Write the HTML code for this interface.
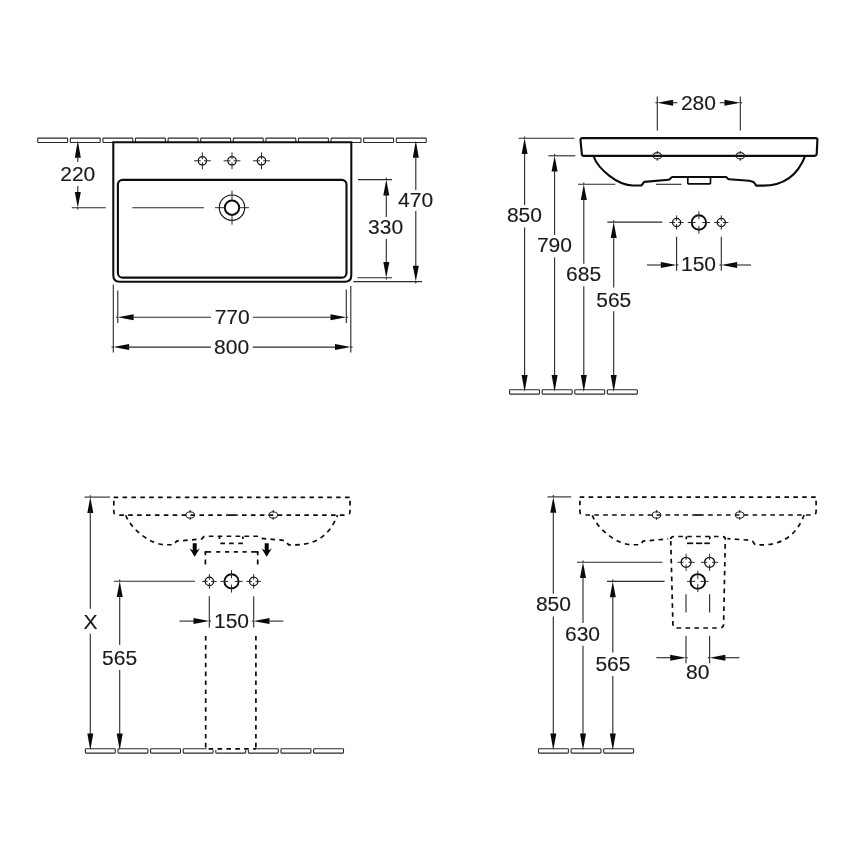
<!DOCTYPE html>
<html><head><meta charset="utf-8"><title>Washbasin technical drawing</title>
<style>
html,body{margin:0;padding:0;background:#fff;}
svg{display:block;filter:grayscale(1)}
text{font-family:"Liberation Sans",Arial,sans-serif;font-size:21px;fill:#1a1a1a;stroke:#1a1a1a;stroke-width:0.15px;}
.t{opacity:0.999}
</style></head>
<body>
<svg width="868" height="868" viewBox="0 0 868 868">
<rect width="868" height="868" fill="#ffffff"/>
<g class="t">
<rect x="37.70" y="138.1" width="29.9" height="4.4" fill="none" stroke="#2a2a2a" stroke-width="1.1" rx="0.6"/>
<rect x="70.30" y="138.1" width="29.9" height="4.4" fill="none" stroke="#2a2a2a" stroke-width="1.1" rx="0.6"/>
<rect x="102.90" y="138.1" width="29.9" height="4.4" fill="none" stroke="#2a2a2a" stroke-width="1.1" rx="0.6"/>
<rect x="135.50" y="138.1" width="29.9" height="4.4" fill="none" stroke="#2a2a2a" stroke-width="1.1" rx="0.6"/>
<rect x="168.10" y="138.1" width="29.9" height="4.4" fill="none" stroke="#2a2a2a" stroke-width="1.1" rx="0.6"/>
<rect x="200.70" y="138.1" width="29.9" height="4.4" fill="none" stroke="#2a2a2a" stroke-width="1.1" rx="0.6"/>
<rect x="233.30" y="138.1" width="29.9" height="4.4" fill="none" stroke="#2a2a2a" stroke-width="1.1" rx="0.6"/>
<rect x="265.90" y="138.1" width="29.9" height="4.4" fill="none" stroke="#2a2a2a" stroke-width="1.1" rx="0.6"/>
<rect x="298.50" y="138.1" width="29.9" height="4.4" fill="none" stroke="#2a2a2a" stroke-width="1.1" rx="0.6"/>
<rect x="331.10" y="138.1" width="29.9" height="4.4" fill="none" stroke="#2a2a2a" stroke-width="1.1" rx="0.6"/>
<rect x="363.70" y="138.1" width="29.9" height="4.4" fill="none" stroke="#2a2a2a" stroke-width="1.1" rx="0.6"/>
<rect x="396.30" y="138.1" width="29.9" height="4.4" fill="none" stroke="#2a2a2a" stroke-width="1.1" rx="0.6"/>
<path d="M113.3 142.3 H351.3 V275.3 Q351.3 281.8 344.8 281.8 H119.8 Q113.3 281.8 113.3 275.3 Z" fill="none" stroke="#0c0c0c" stroke-width="2.05"/>
<rect x="117.9" y="179.9" width="228.6" height="97.7" rx="4.7" ry="4.7" fill="none" stroke="#0c0c0c" stroke-width="2.1"/>
<circle cx="202.4" cy="160.8" r="4.2" fill="none" stroke="#0c0c0c" stroke-width="1.25"/>
<line x1="194.0" y1="160.8" x2="200.8" y2="160.8" stroke="#2a2a2a" stroke-width="1" />
<line x1="204.0" y1="160.8" x2="210.8" y2="160.8" stroke="#2a2a2a" stroke-width="1" />
<line x1="202.4" y1="152.4" x2="202.4" y2="159.20000000000002" stroke="#2a2a2a" stroke-width="1" />
<line x1="202.4" y1="162.4" x2="202.4" y2="169.20000000000002" stroke="#2a2a2a" stroke-width="1" />
<circle cx="232.0" cy="160.8" r="4.2" fill="none" stroke="#0c0c0c" stroke-width="1.25"/>
<line x1="223.6" y1="160.8" x2="230.4" y2="160.8" stroke="#2a2a2a" stroke-width="1" />
<line x1="233.6" y1="160.8" x2="240.4" y2="160.8" stroke="#2a2a2a" stroke-width="1" />
<line x1="232.0" y1="152.4" x2="232.0" y2="159.20000000000002" stroke="#2a2a2a" stroke-width="1" />
<line x1="232.0" y1="162.4" x2="232.0" y2="169.20000000000002" stroke="#2a2a2a" stroke-width="1" />
<circle cx="261.5" cy="160.8" r="4.2" fill="none" stroke="#0c0c0c" stroke-width="1.25"/>
<line x1="253.1" y1="160.8" x2="259.9" y2="160.8" stroke="#2a2a2a" stroke-width="1" />
<line x1="263.1" y1="160.8" x2="269.9" y2="160.8" stroke="#2a2a2a" stroke-width="1" />
<line x1="261.5" y1="152.4" x2="261.5" y2="159.20000000000002" stroke="#2a2a2a" stroke-width="1" />
<line x1="261.5" y1="162.4" x2="261.5" y2="169.20000000000002" stroke="#2a2a2a" stroke-width="1" />
<circle cx="232.0" cy="207.7" r="12.7" fill="none" stroke="#0c0c0c" stroke-width="1.1"/>
<circle cx="232.0" cy="207.7" r="7.2" fill="none" stroke="#0c0c0c" stroke-width="2"/>
<line x1="215.0" y1="207.7" x2="224.5" y2="207.7" stroke="#2a2a2a" stroke-width="1" />
<line x1="239.5" y1="207.7" x2="249.0" y2="207.7" stroke="#2a2a2a" stroke-width="1" />
<line x1="232.0" y1="190.7" x2="232.0" y2="200.2" stroke="#2a2a2a" stroke-width="1" />
<line x1="232.0" y1="215.2" x2="232.0" y2="224.7" stroke="#2a2a2a" stroke-width="1" />
<polygon points="77.80,140.60 74.80,157.80 80.80,157.80" fill="#0a0a0a"/>
<line x1="77.8" y1="156" x2="77.8" y2="161.9" stroke="#2a2a2a" stroke-width="1.12" />
<text x="77.8" y="181.3" text-anchor="middle">220</text>
<line x1="77.8" y1="186" x2="77.8" y2="194" stroke="#2a2a2a" stroke-width="1.12" />
<polygon points="77.80,207.80 74.80,192.00 80.80,192.00" fill="#0a0a0a"/>
<line x1="77.8" y1="207.8" x2="77.8" y2="209.60000000000002" stroke="#2a2a2a" stroke-width="1.12" />
<line x1="71.8" y1="207.8" x2="105.8" y2="207.8" stroke="#2a2a2a" stroke-width="1.12" />
<line x1="132.3" y1="207.8" x2="204" y2="207.8" stroke="#2a2a2a" stroke-width="1.12" />
<line x1="358" y1="179.6" x2="392" y2="179.6" stroke="#2a2a2a" stroke-width="1.12" />
<line x1="357.5" y1="277.7" x2="392" y2="277.7" stroke="#2a2a2a" stroke-width="1.12" />
<polygon points="386.30,179.60 383.30,195.40 389.30,195.40" fill="#0a0a0a"/>
<line x1="386.3" y1="179.6" x2="386.3" y2="177.79999999999998" stroke="#2a2a2a" stroke-width="1.12" />
<line x1="386.3" y1="193" x2="386.3" y2="217" stroke="#2a2a2a" stroke-width="1.12" />
<text x="385.6" y="234.1" text-anchor="middle">330</text>
<line x1="386.3" y1="238.8" x2="386.3" y2="264" stroke="#2a2a2a" stroke-width="1.12" />
<polygon points="386.30,277.70 383.30,261.90 389.30,261.90" fill="#0a0a0a"/>
<line x1="386.3" y1="277.7" x2="386.3" y2="279.5" stroke="#2a2a2a" stroke-width="1.12" />
<line x1="353.3" y1="281.6" x2="422" y2="281.6" stroke="#2a2a2a" stroke-width="1.12" />
<polygon points="415.80,140.60 412.80,157.80 418.80,157.80" fill="#0a0a0a"/>
<line x1="415.8" y1="156" x2="415.8" y2="190" stroke="#2a2a2a" stroke-width="1.12" />
<text x="415.6" y="207.1" text-anchor="middle">470</text>
<line x1="415.8" y1="211" x2="415.8" y2="267.5" stroke="#2a2a2a" stroke-width="1.12" />
<polygon points="415.80,281.60 412.80,265.80 418.80,265.80" fill="#0a0a0a"/>
<line x1="415.8" y1="281.6" x2="415.8" y2="283.40000000000003" stroke="#2a2a2a" stroke-width="1.12" />
<line x1="113.3" y1="284.5" x2="113.3" y2="352.5" stroke="#2a2a2a" stroke-width="1.12" />
<line x1="350.8" y1="286" x2="350.8" y2="352.5" stroke="#2a2a2a" stroke-width="1.12" />
<line x1="117.8" y1="290.5" x2="117.8" y2="323" stroke="#2a2a2a" stroke-width="1.12" />
<line x1="346.3" y1="289.5" x2="346.3" y2="323" stroke="#2a2a2a" stroke-width="1.12" />
<polygon points="117.80,317.30 133.60,314.30 133.60,320.30" fill="#0a0a0a"/>
<line x1="117.8" y1="317.3" x2="116.0" y2="317.3" stroke="#2a2a2a" stroke-width="1.12" />
<line x1="131.5" y1="317.3" x2="211" y2="317.3" stroke="#2a2a2a" stroke-width="1.12" />
<text x="232.2" y="324.3" text-anchor="middle">770</text>
<line x1="252.8" y1="317.3" x2="332" y2="317.3" stroke="#2a2a2a" stroke-width="1.12" />
<polygon points="346.30,317.30 330.50,314.30 330.50,320.30" fill="#0a0a0a"/>
<line x1="346.3" y1="317.3" x2="348.1" y2="317.3" stroke="#2a2a2a" stroke-width="1.12" />
<polygon points="113.30,347.10 129.10,344.10 129.10,350.10" fill="#0a0a0a"/>
<line x1="113.3" y1="347.1" x2="111.5" y2="347.1" stroke="#2a2a2a" stroke-width="1.12" />
<line x1="127" y1="347.1" x2="211" y2="347.1" stroke="#2a2a2a" stroke-width="1.12" />
<text x="231.6" y="354.1" text-anchor="middle">800</text>
<line x1="252.8" y1="347.1" x2="337" y2="347.1" stroke="#2a2a2a" stroke-width="1.12" />
<polygon points="350.80,347.10 335.00,344.10 335.00,350.10" fill="#0a0a0a"/>
<line x1="350.8" y1="347.1" x2="352.6" y2="347.1" stroke="#2a2a2a" stroke-width="1.12" />
<line x1="657.3" y1="96.4" x2="657.3" y2="130.5" stroke="#2a2a2a" stroke-width="1.12" />
<line x1="740.3" y1="96.4" x2="740.3" y2="130.5" stroke="#2a2a2a" stroke-width="1.12" />
<polygon points="657.30,102.70 673.10,99.70 673.10,105.70" fill="#0a0a0a"/>
<line x1="657.3" y1="102.7" x2="655.5" y2="102.7" stroke="#2a2a2a" stroke-width="1.12" />
<line x1="671" y1="102.7" x2="677.3" y2="102.7" stroke="#2a2a2a" stroke-width="1.12" />
<text x="698.4" y="110" text-anchor="middle">280</text>
<line x1="719.8" y1="102.7" x2="727" y2="102.7" stroke="#2a2a2a" stroke-width="1.12" />
<polygon points="740.30,102.70 724.50,99.70 724.50,105.70" fill="#0a0a0a"/>
<line x1="740.3" y1="102.7" x2="742.0999999999999" y2="102.7" stroke="#2a2a2a" stroke-width="1.12" />
<path d="M582.3 138.1 H815.6 Q817.5 138.1 817.4 140 L816.7 153.8 Q816.6 155.8 814.6 155.8 H583.8 Q582 155.8 581.8 153.8 L580.5 140.1 Q580.4 138.1 582.3 138.1 Z" fill="none" stroke="#0c0c0c" stroke-width="2.15" stroke-linejoin="round"/>
<path d="M593.40 156.00 C598.40 169.60 618.00 185.50 633.00 185.50 L641.40 185.50 L644.20 181.90 L668.70 179.80 C670.70 179.60 670.40 177.00 672.70 177.00 L725.60 177.00 C727.40 177.00 727.00 179.00 729.00 179.20 L749.20 180.80 L753.70 182.00 L756.20 185.60 L763.00 185.60 C789.50 185.60 800.00 169.30 805.20 155.80" fill="none" stroke="#0c0c0c" stroke-width="2.1" stroke-linejoin="round"/>
<path d="M687.8 177 V183.1 Q687.8 183.9 688.6 183.9 H709.7 Q710.5 183.9 710.5 183.1 V177" fill="none" stroke="#0c0c0c" stroke-width="1.7"/>
<line x1="656" y1="184.3" x2="681.6" y2="184.3" stroke="#2a2a2a" stroke-width="1.12" />
<ellipse cx="657.3" cy="155.8" rx="4.3" ry="3.2" fill="none" stroke="#222" stroke-width="1.05"/>
<line x1="657.3" y1="150.9" x2="657.3" y2="153.6" stroke="#2a2a2a" stroke-width="1.12" />
<line x1="657.3" y1="158.0" x2="657.3" y2="160.7" stroke="#2a2a2a" stroke-width="1.12" />
<ellipse cx="740.3" cy="155.8" rx="4.3" ry="3.2" fill="none" stroke="#222" stroke-width="1.05"/>
<line x1="740.3" y1="150.9" x2="740.3" y2="153.6" stroke="#2a2a2a" stroke-width="1.12" />
<line x1="740.3" y1="158.0" x2="740.3" y2="160.7" stroke="#2a2a2a" stroke-width="1.12" />
<circle cx="676.6" cy="222.5" r="4.1" fill="none" stroke="#0c0c0c" stroke-width="1.25"/>
<line x1="669.5" y1="222.5" x2="675.0" y2="222.5" stroke="#2a2a2a" stroke-width="1" />
<line x1="678.2" y1="222.5" x2="683.7" y2="222.5" stroke="#2a2a2a" stroke-width="1" />
<line x1="676.6" y1="215.4" x2="676.6" y2="220.9" stroke="#2a2a2a" stroke-width="1" />
<line x1="676.6" y1="224.1" x2="676.6" y2="229.6" stroke="#2a2a2a" stroke-width="1" />
<circle cx="721.3" cy="222.5" r="4.1" fill="none" stroke="#0c0c0c" stroke-width="1.25"/>
<line x1="714.1999999999999" y1="222.5" x2="719.6999999999999" y2="222.5" stroke="#2a2a2a" stroke-width="1" />
<line x1="722.9" y1="222.5" x2="728.4" y2="222.5" stroke="#2a2a2a" stroke-width="1" />
<line x1="721.3" y1="215.4" x2="721.3" y2="220.9" stroke="#2a2a2a" stroke-width="1" />
<line x1="721.3" y1="224.1" x2="721.3" y2="229.6" stroke="#2a2a2a" stroke-width="1" />
<circle cx="698.9" cy="222.5" r="7.2" fill="none" stroke="#0c0c0c" stroke-width="1.9"/>
<line x1="687.6999999999999" y1="222.5" x2="695.5" y2="222.5" stroke="#2a2a2a" stroke-width="1" />
<line x1="702.3" y1="222.5" x2="710.1" y2="222.5" stroke="#2a2a2a" stroke-width="1" />
<line x1="698.9" y1="211.3" x2="698.9" y2="219.1" stroke="#2a2a2a" stroke-width="1" />
<line x1="698.9" y1="225.9" x2="698.9" y2="233.7" stroke="#2a2a2a" stroke-width="1" />
<line x1="676.6" y1="236.8" x2="676.6" y2="270.8" stroke="#2a2a2a" stroke-width="1.12" />
<line x1="721.3" y1="236.8" x2="721.3" y2="270.8" stroke="#2a2a2a" stroke-width="1.12" />
<line x1="647" y1="265.0" x2="663" y2="265.0" stroke="#2a2a2a" stroke-width="1.12" />
<polygon points="676.60,265.00 660.80,262.00 660.80,268.00" fill="#0a0a0a"/>
<line x1="676.6" y1="265.0" x2="678.4" y2="265.0" stroke="#2a2a2a" stroke-width="1.12" />
<text x="698.5" y="271.3" text-anchor="middle">150</text>
<polygon points="721.30,265.00 737.10,262.00 737.10,268.00" fill="#0a0a0a"/>
<line x1="721.3" y1="265.0" x2="719.5" y2="265.0" stroke="#2a2a2a" stroke-width="1.12" />
<line x1="735" y1="265.0" x2="751" y2="265.0" stroke="#2a2a2a" stroke-width="1.12" />
<line x1="518.5" y1="138.2" x2="574.4" y2="138.2" stroke="#2a2a2a" stroke-width="1.12" />
<polygon points="524.60,138.20 521.60,154.00 527.60,154.00" fill="#0a0a0a"/>
<line x1="524.6" y1="138.2" x2="524.6" y2="136.39999999999998" stroke="#2a2a2a" stroke-width="1.12" />
<line x1="524.6" y1="153.0" x2="524.6" y2="205" stroke="#2a2a2a" stroke-width="1.12" />
<text x="524.4" y="222.2" text-anchor="middle">850</text>
<line x1="524.6" y1="227.5" x2="524.6" y2="375.2" stroke="#2a2a2a" stroke-width="1.12" />
<polygon points="524.60,392.00 521.60,375.10 527.60,375.10" fill="#0a0a0a"/>
<line x1="548.4" y1="155.8" x2="575.3" y2="155.8" stroke="#2a2a2a" stroke-width="1.12" />
<polygon points="554.60,155.80 551.60,171.60 557.60,171.60" fill="#0a0a0a"/>
<line x1="554.6" y1="155.8" x2="554.6" y2="154.0" stroke="#2a2a2a" stroke-width="1.12" />
<line x1="554.6" y1="170.60000000000002" x2="554.6" y2="235" stroke="#2a2a2a" stroke-width="1.12" />
<text x="554.4" y="252.2" text-anchor="middle">790</text>
<line x1="554.6" y1="257.5" x2="554.6" y2="375.2" stroke="#2a2a2a" stroke-width="1.12" />
<polygon points="554.60,392.00 551.60,375.10 557.60,375.10" fill="#0a0a0a"/>
<line x1="578.0" y1="184.3" x2="615.3" y2="184.3" stroke="#2a2a2a" stroke-width="1.12" />
<polygon points="583.80,184.30 580.80,200.10 586.80,200.10" fill="#0a0a0a"/>
<line x1="583.8" y1="184.3" x2="583.8" y2="182.5" stroke="#2a2a2a" stroke-width="1.12" />
<line x1="583.8" y1="199.10000000000002" x2="583.8" y2="263.8" stroke="#2a2a2a" stroke-width="1.12" />
<text x="583.6" y="281.0" text-anchor="middle">685</text>
<line x1="583.8" y1="286.3" x2="583.8" y2="375.2" stroke="#2a2a2a" stroke-width="1.12" />
<polygon points="583.80,392.00 580.80,375.10 586.80,375.10" fill="#0a0a0a"/>
<line x1="607.3" y1="222.1" x2="662.3" y2="222.1" stroke="#2a2a2a" stroke-width="1.12" />
<polygon points="613.70,222.10 610.70,237.90 616.70,237.90" fill="#0a0a0a"/>
<line x1="613.7" y1="222.1" x2="613.7" y2="220.29999999999998" stroke="#2a2a2a" stroke-width="1.12" />
<line x1="613.7" y1="236.9" x2="613.7" y2="287.5" stroke="#2a2a2a" stroke-width="1.12" />
<text x="613.8" y="307.1" text-anchor="middle">565</text>
<line x1="613.7" y1="311.3" x2="613.7" y2="375.2" stroke="#2a2a2a" stroke-width="1.12" />
<polygon points="613.70,392.00 610.70,375.10 616.70,375.10" fill="#0a0a0a"/>
<rect x="509.60" y="389.75" width="29.9" height="4.4" fill="none" stroke="#2a2a2a" stroke-width="1.1" rx="0.6"/>
<rect x="542.20" y="389.75" width="29.9" height="4.4" fill="none" stroke="#2a2a2a" stroke-width="1.1" rx="0.6"/>
<rect x="574.80" y="389.75" width="29.9" height="4.4" fill="none" stroke="#2a2a2a" stroke-width="1.1" rx="0.6"/>
<rect x="607.40" y="389.75" width="29.9" height="4.4" fill="none" stroke="#2a2a2a" stroke-width="1.1" rx="0.6"/>
<path d="M113.6 497.3 H350.8" fill="none" stroke="#0c0c0c" stroke-width="1.7" stroke-dasharray="4.6 4.3"/>
<path d="M113.8 497.3 V511.6 Q113.8 515.1 117.3 515.1" fill="none" stroke="#0c0c0c" stroke-width="1.7" stroke-dasharray="4.6 4.3" stroke-dashoffset="5.4"/>
<path d="M350.0 497.3 V511.6 Q350.0 515.1 346.5 515.1" fill="none" stroke="#0c0c0c" stroke-width="1.7" stroke-dasharray="4.6 4.3" stroke-dashoffset="5.4"/>
<path d="M119.3 515.1 H227.3" fill="none" stroke="#0c0c0c" stroke-width="1.7" stroke-dasharray="4.6 4.3"/>
<path d="M344.5 515.1 H236.5" fill="none" stroke="#0c0c0c" stroke-width="1.7" stroke-dasharray="4.6 4.3"/>
<path d="M227.20000000000002 515.1 H236.6" fill="none" stroke="#0c0c0c" stroke-width="1.7" />
<path d="M125.75 515.25 C130.75 528.85 150.35 544.75 165.35 544.75 L173.75 544.75 L176.55 541.15 L201.05 539.05 C203.05 538.85 202.75 536.25 205.05 536.25 L257.95 536.25 C259.75 536.25 259.35 538.25 261.35 538.45 L281.55 540.05 L286.05 541.25 L288.55 544.85 L295.35 544.85 C321.85 544.85 332.35 528.55 337.55 515.05" fill="none" stroke="#0c0c0c" stroke-width="1.7" stroke-dasharray="4.6 4.3"/>
<path d="M219.5 536.4 V539 M242.9 536.4 V539" fill="none" stroke="#0c0c0c" stroke-width="1.7" />
<path d="M220.3 543.4 H225" fill="none" stroke="#0c0c0c" stroke-width="1.7" />
<path d="M229.1 543.4 H233.7" fill="none" stroke="#0c0c0c" stroke-width="1.7" />
<path d="M238.3 543.4 H242.9" fill="none" stroke="#0c0c0c" stroke-width="1.7" />
<ellipse cx="190.2" cy="515" rx="4.3" ry="3.2" fill="none" stroke="#222" stroke-width="1.05"/>
<line x1="190.2" y1="510.0" x2="190.2" y2="512.7" stroke="#2a2a2a" stroke-width="1.12" />
<line x1="190.2" y1="517.1" x2="190.2" y2="519.8" stroke="#2a2a2a" stroke-width="1.12" />
<ellipse cx="273.2" cy="515" rx="4.3" ry="3.2" fill="none" stroke="#222" stroke-width="1.05"/>
<line x1="273.2" y1="510.0" x2="273.2" y2="512.7" stroke="#2a2a2a" stroke-width="1.12" />
<line x1="273.2" y1="517.1" x2="273.2" y2="519.8" stroke="#2a2a2a" stroke-width="1.12" />
<path d="M192.7 543.3 H196.7 V550.1999999999999 L199.79999999999998 548.4 L194.7 556.8 L189.6 548.4 L192.7 550.1999999999999 Z" fill="#000"/>
<path d="M264.7 543.3 H268.7 V550.1999999999999 L271.8 548.4 L266.7 556.8 L261.59999999999997 548.4 L264.7 550.1999999999999 Z" fill="#000"/>
<path d="M204.55 551.9 H211.1" fill="none" stroke="#0c0c0c" stroke-width="1.7" />
<path d="M216.2 551.9 H220.3" fill="none" stroke="#0c0c0c" stroke-width="1.7" />
<path d="M225 551.9 H229.2" fill="none" stroke="#0c0c0c" stroke-width="1.7" />
<path d="M233.7 551.9 H237.9" fill="none" stroke="#0c0c0c" stroke-width="1.7" />
<path d="M242.5 551.9 H246.7" fill="none" stroke="#0c0c0c" stroke-width="1.7" />
<path d="M251.2 551.9 H258.55" fill="none" stroke="#0c0c0c" stroke-width="1.7" />
<path d="M205.4 551.9 V555.3 M205.4 559.5 V564.6" fill="none" stroke="#0c0c0c" stroke-width="1.7" />
<path d="M257.7 551.9 V555.3 M257.7 559.5 V564.6" fill="none" stroke="#0c0c0c" stroke-width="1.7" />
<circle cx="209.4" cy="581.4" r="4.2" fill="none" stroke="#0c0c0c" stroke-width="1.25"/>
<line x1="202.1" y1="581.4" x2="207.8" y2="581.4" stroke="#2a2a2a" stroke-width="1" />
<line x1="211.0" y1="581.4" x2="216.70000000000002" y2="581.4" stroke="#2a2a2a" stroke-width="1" />
<line x1="209.4" y1="574.1" x2="209.4" y2="579.8" stroke="#2a2a2a" stroke-width="1" />
<line x1="209.4" y1="583.0" x2="209.4" y2="588.6999999999999" stroke="#2a2a2a" stroke-width="1" />
<circle cx="253.7" cy="581.4" r="4.2" fill="none" stroke="#0c0c0c" stroke-width="1.25"/>
<line x1="246.39999999999998" y1="581.4" x2="252.1" y2="581.4" stroke="#2a2a2a" stroke-width="1" />
<line x1="255.29999999999998" y1="581.4" x2="261.0" y2="581.4" stroke="#2a2a2a" stroke-width="1" />
<line x1="253.7" y1="574.1" x2="253.7" y2="579.8" stroke="#2a2a2a" stroke-width="1" />
<line x1="253.7" y1="583.0" x2="253.7" y2="588.6999999999999" stroke="#2a2a2a" stroke-width="1" />
<circle cx="231.5" cy="581.4" r="7.1" fill="none" stroke="#0c0c0c" stroke-width="1.9"/>
<line x1="220.3" y1="581.4" x2="228.3" y2="581.4" stroke="#2a2a2a" stroke-width="1" />
<line x1="234.7" y1="581.4" x2="242.7" y2="581.4" stroke="#2a2a2a" stroke-width="1" />
<line x1="231.5" y1="570.1999999999999" x2="231.5" y2="578.1999999999999" stroke="#2a2a2a" stroke-width="1" />
<line x1="231.5" y1="584.6" x2="231.5" y2="592.6" stroke="#2a2a2a" stroke-width="1" />
<line x1="209.3" y1="596.3" x2="209.3" y2="627.5" stroke="#2a2a2a" stroke-width="1.12" />
<line x1="253.7" y1="596.3" x2="253.7" y2="627.5" stroke="#2a2a2a" stroke-width="1.12" />
<line x1="179.5" y1="621.1" x2="196" y2="621.1" stroke="#2a2a2a" stroke-width="1.12" />
<polygon points="209.30,621.10 193.50,618.10 193.50,624.10" fill="#0a0a0a"/>
<line x1="209.3" y1="621.1" x2="211.10000000000002" y2="621.1" stroke="#2a2a2a" stroke-width="1.12" />
<text x="231.5" y="628.3" text-anchor="middle">150</text>
<polygon points="253.70,621.10 269.50,618.10 269.50,624.10" fill="#0a0a0a"/>
<line x1="253.7" y1="621.1" x2="251.89999999999998" y2="621.1" stroke="#2a2a2a" stroke-width="1.12" />
<line x1="267.5" y1="621.1" x2="283.3" y2="621.1" stroke="#2a2a2a" stroke-width="1.12" />
<line x1="84.5" y1="497.1" x2="110" y2="497.1" stroke="#2a2a2a" stroke-width="1.12" />
<polygon points="90.30,497.10 87.30,512.90 93.30,512.90" fill="#0a0a0a"/>
<line x1="90.3" y1="497.1" x2="90.3" y2="495.3" stroke="#2a2a2a" stroke-width="1.12" />
<line x1="90.3" y1="511" x2="90.3" y2="608.8" stroke="#2a2a2a" stroke-width="1.12" />
<text x="90.6" y="628.8" text-anchor="middle">X</text>
<line x1="90.3" y1="633.8" x2="90.3" y2="734.2" stroke="#2a2a2a" stroke-width="1.12" />
<polygon points="90.30,750.20 87.30,733.60 93.30,733.60" fill="#0a0a0a"/>
<line x1="113.8" y1="581.3" x2="195" y2="581.3" stroke="#2a2a2a" stroke-width="1.12" />
<polygon points="119.70,581.30 116.70,597.10 122.70,597.10" fill="#0a0a0a"/>
<line x1="119.7" y1="581.3" x2="119.7" y2="579.5" stroke="#2a2a2a" stroke-width="1.12" />
<line x1="119.7" y1="595" x2="119.7" y2="645" stroke="#2a2a2a" stroke-width="1.12" />
<text x="119.6" y="665" text-anchor="middle">565</text>
<line x1="119.7" y1="670" x2="119.7" y2="734.2" stroke="#2a2a2a" stroke-width="1.12" />
<polygon points="119.70,750.20 116.70,733.60 122.70,733.60" fill="#0a0a0a"/>
<rect x="85.40" y="748.7" width="29.9" height="4.4" fill="none" stroke="#2a2a2a" stroke-width="1.1" rx="0.6"/>
<rect x="118.00" y="748.7" width="29.9" height="4.4" fill="none" stroke="#2a2a2a" stroke-width="1.1" rx="0.6"/>
<rect x="150.60" y="748.7" width="29.9" height="4.4" fill="none" stroke="#2a2a2a" stroke-width="1.1" rx="0.6"/>
<rect x="183.20" y="748.7" width="29.9" height="4.4" fill="none" stroke="#2a2a2a" stroke-width="1.1" rx="0.6"/>
<rect x="215.80" y="748.7" width="29.9" height="4.4" fill="none" stroke="#2a2a2a" stroke-width="1.1" rx="0.6"/>
<rect x="248.40" y="748.7" width="29.9" height="4.4" fill="none" stroke="#2a2a2a" stroke-width="1.1" rx="0.6"/>
<rect x="281.00" y="748.7" width="29.9" height="4.4" fill="none" stroke="#2a2a2a" stroke-width="1.1" rx="0.6"/>
<rect x="313.60" y="748.7" width="29.9" height="4.4" fill="none" stroke="#2a2a2a" stroke-width="1.1" rx="0.6"/>
<rect x="206.6" y="747.9" width="48.4" height="2.2" fill="#fff"/>
<path d="M205.7 636 V748.8 H255.9" fill="none" stroke="#0c0c0c" stroke-width="1.7" stroke-dasharray="4.6 4.3"/>
<path d="M255.9 636 V748.8" fill="none" stroke="#0c0c0c" stroke-width="1.7" stroke-dasharray="4.6 4.3"/>
<path d="M579.6999999999999 497.2 H816.8999999999999" fill="none" stroke="#0c0c0c" stroke-width="1.7" stroke-dasharray="4.6 4.3"/>
<path d="M579.9 497.2 V511.5 Q579.9 515.0 583.4 515.0" fill="none" stroke="#0c0c0c" stroke-width="1.7" stroke-dasharray="4.6 4.3" stroke-dashoffset="5.4"/>
<path d="M816.0999999999999 497.2 V511.5 Q816.0999999999999 515.0 812.5999999999999 515.0" fill="none" stroke="#0c0c0c" stroke-width="1.7" stroke-dasharray="4.6 4.3" stroke-dashoffset="5.4"/>
<path d="M585.4 515.0 H693.4" fill="none" stroke="#0c0c0c" stroke-width="1.7" stroke-dasharray="4.6 4.3"/>
<path d="M810.5999999999999 515.0 H702.6" fill="none" stroke="#0c0c0c" stroke-width="1.7" stroke-dasharray="4.6 4.3"/>
<path d="M693.3 515.0 H702.7" fill="none" stroke="#0c0c0c" stroke-width="1.7" />
<path d="M592.30 515.25 C597.30 528.85 616.90 544.75 631.90 544.75 L640.30 544.75 L643.10 541.15 L668.2 538.9" fill="none" stroke="#0c0c0c" stroke-width="1.7" stroke-dasharray="4.6 4.3"/>
<path d="M804.10 515.05 C798.90 528.55 788.40 544.85 761.90 544.85 L755.10 544.85 L752.60 541.25 L748.10 540.05 L727.4 538.7" fill="none" stroke="#0c0c0c" stroke-width="1.7" stroke-dasharray="4.6 4.3"/>
<path d="M670.7 539 Q670.9 536.5 674 536.5 H722.3 Q725.3 536.5 725.3 539 L723.6 624 Q723.5 628 719.5 628 H677 Q673 628 672.9 624 Z" fill="none" stroke="#0c0c0c" stroke-width="1.7" stroke-dasharray="4.6 4.3"/>
<path d="M686.3 536.4 V539.2 M709.8 536.4 V539.2" fill="none" stroke="#0c0c0c" stroke-width="1.7" />
<path d="M687 543.3 H693.2" fill="none" stroke="#0c0c0c" stroke-width="1.7" />
<path d="M696 543.3 H702.2" fill="none" stroke="#0c0c0c" stroke-width="1.7" />
<path d="M704.3 543.3 H709.8" fill="none" stroke="#0c0c0c" stroke-width="1.7" />
<ellipse cx="656.5" cy="515" rx="4.3" ry="3.2" fill="none" stroke="#222" stroke-width="1.05"/>
<line x1="656.5" y1="510.0" x2="656.5" y2="512.7" stroke="#2a2a2a" stroke-width="1.12" />
<line x1="656.5" y1="517.1" x2="656.5" y2="519.8" stroke="#2a2a2a" stroke-width="1.12" />
<ellipse cx="739.7" cy="515" rx="4.3" ry="3.2" fill="none" stroke="#222" stroke-width="1.05"/>
<line x1="739.7" y1="510.0" x2="739.7" y2="512.7" stroke="#2a2a2a" stroke-width="1.12" />
<line x1="739.7" y1="517.1" x2="739.7" y2="519.8" stroke="#2a2a2a" stroke-width="1.12" />
<circle cx="686.1" cy="562.3" r="5.0" fill="none" stroke="#0c0c0c" stroke-width="1.3"/>
<line x1="677.5" y1="562.3" x2="683.7" y2="562.3" stroke="#2a2a2a" stroke-width="1" />
<line x1="688.5" y1="562.3" x2="694.7" y2="562.3" stroke="#2a2a2a" stroke-width="1" />
<line x1="686.1" y1="553.6999999999999" x2="686.1" y2="559.9" stroke="#2a2a2a" stroke-width="1" />
<line x1="686.1" y1="564.6999999999999" x2="686.1" y2="570.9" stroke="#2a2a2a" stroke-width="1" />
<circle cx="709.6" cy="562.3" r="5.0" fill="none" stroke="#0c0c0c" stroke-width="1.3"/>
<line x1="701.0" y1="562.3" x2="707.2" y2="562.3" stroke="#2a2a2a" stroke-width="1" />
<line x1="712.0" y1="562.3" x2="718.2" y2="562.3" stroke="#2a2a2a" stroke-width="1" />
<line x1="709.6" y1="553.6999999999999" x2="709.6" y2="559.9" stroke="#2a2a2a" stroke-width="1" />
<line x1="709.6" y1="564.6999999999999" x2="709.6" y2="570.9" stroke="#2a2a2a" stroke-width="1" />
<circle cx="697.8" cy="581.4" r="7.3" fill="none" stroke="#0c0c0c" stroke-width="1.9"/>
<line x1="687.0999999999999" y1="581.4" x2="695.1999999999999" y2="581.4" stroke="#2a2a2a" stroke-width="1" />
<line x1="700.4" y1="581.4" x2="708.5" y2="581.4" stroke="#2a2a2a" stroke-width="1" />
<line x1="697.8" y1="570.6999999999999" x2="697.8" y2="578.8" stroke="#2a2a2a" stroke-width="1" />
<line x1="697.8" y1="584.0" x2="697.8" y2="592.1" stroke="#2a2a2a" stroke-width="1" />
<line x1="686.0" y1="594.3" x2="686.0" y2="612.5" stroke="#2a2a2a" stroke-width="1.12" />
<line x1="709.6" y1="594.3" x2="709.6" y2="612.5" stroke="#2a2a2a" stroke-width="1.12" />
<line x1="686.0" y1="635.8" x2="686.0" y2="663.2" stroke="#2a2a2a" stroke-width="1.12" />
<line x1="709.6" y1="635.8" x2="709.6" y2="663.2" stroke="#2a2a2a" stroke-width="1.12" />
<line x1="656.4" y1="657.7" x2="672.5" y2="657.7" stroke="#2a2a2a" stroke-width="1.12" />
<polygon points="686.00,657.70 670.20,654.70 670.20,660.70" fill="#0a0a0a"/>
<line x1="686.0" y1="657.7" x2="687.8" y2="657.7" stroke="#2a2a2a" stroke-width="1.12" />
<text x="697.7" y="678.6" text-anchor="middle">80</text>
<polygon points="709.60,657.70 725.40,654.70 725.40,660.70" fill="#0a0a0a"/>
<line x1="709.6" y1="657.7" x2="707.8000000000001" y2="657.7" stroke="#2a2a2a" stroke-width="1.12" />
<line x1="723.5" y1="657.7" x2="739.5" y2="657.7" stroke="#2a2a2a" stroke-width="1.12" />
<line x1="547.5" y1="496.9" x2="571.3" y2="496.9" stroke="#2a2a2a" stroke-width="1.12" />
<polygon points="553.30,496.90 550.30,512.70 556.30,512.70" fill="#0a0a0a"/>
<line x1="553.3" y1="496.9" x2="553.3" y2="495.09999999999997" stroke="#2a2a2a" stroke-width="1.12" />
<line x1="553.3" y1="511.69999999999993" x2="553.3" y2="593.8" stroke="#2a2a2a" stroke-width="1.12" />
<text x="553.4" y="611.3" text-anchor="middle">850</text>
<line x1="553.3" y1="616.5" x2="553.3" y2="734.2" stroke="#2a2a2a" stroke-width="1.12" />
<polygon points="553.30,750.20 550.30,733.60 556.30,733.60" fill="#0a0a0a"/>
<line x1="577" y1="562.3" x2="662.4" y2="562.3" stroke="#2a2a2a" stroke-width="1.12" />
<polygon points="583.00,562.30 580.00,578.10 586.00,578.10" fill="#0a0a0a"/>
<line x1="583.0" y1="562.3" x2="583.0" y2="560.5" stroke="#2a2a2a" stroke-width="1.12" />
<line x1="583.0" y1="577.0999999999999" x2="583.0" y2="623" stroke="#2a2a2a" stroke-width="1.12" />
<text x="582.5" y="641.3" text-anchor="middle">630</text>
<line x1="583.0" y1="645.8" x2="583.0" y2="734.2" stroke="#2a2a2a" stroke-width="1.12" />
<polygon points="583.00,750.20 580.00,733.60 586.00,733.60" fill="#0a0a0a"/>
<line x1="607" y1="581.4" x2="664.5" y2="581.4" stroke="#2a2a2a" stroke-width="1.12" />
<polygon points="612.80,581.40 609.80,597.20 615.80,597.20" fill="#0a0a0a"/>
<line x1="612.8" y1="581.4" x2="612.8" y2="579.6" stroke="#2a2a2a" stroke-width="1.12" />
<line x1="612.8" y1="596.1999999999999" x2="612.8" y2="652.5" stroke="#2a2a2a" stroke-width="1.12" />
<text x="612.9" y="671.3" text-anchor="middle">565</text>
<line x1="612.8" y1="676" x2="612.8" y2="734.2" stroke="#2a2a2a" stroke-width="1.12" />
<polygon points="612.80,750.20 609.80,733.60 615.80,733.60" fill="#0a0a0a"/>
<rect x="538.50" y="748.7" width="29.9" height="4.4" fill="none" stroke="#2a2a2a" stroke-width="1.1" rx="0.6"/>
<rect x="571.10" y="748.7" width="29.9" height="4.4" fill="none" stroke="#2a2a2a" stroke-width="1.1" rx="0.6"/>
<rect x="603.70" y="748.7" width="29.9" height="4.4" fill="none" stroke="#2a2a2a" stroke-width="1.1" rx="0.6"/>
</g>
</svg>
</body></html>
